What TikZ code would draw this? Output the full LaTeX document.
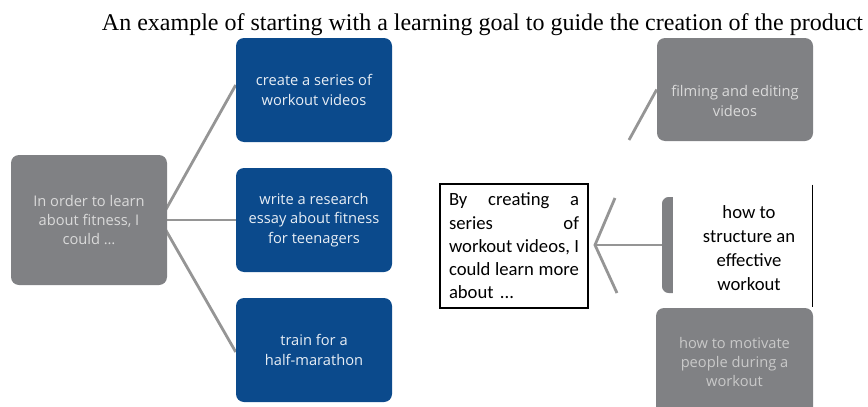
\documentclass[tikz,border=0pt]{standalone}
\usepackage{fontspec}
\setmainfont{Liberation Serif}
\newfontfamily\boxfont{Open Sans}
\newfontfamily\calfont{Carlito}
\usetikzlibrary{backgrounds}
\definecolor{boxblue}{HTML}{0B4A8C}
\definecolor{boxgray}{HTML}{808184}
\definecolor{linegray}{HTML}{959595}
\definecolor{lighttext}{HTML}{DADADA}
\definecolor{bluetext}{HTML}{E8EEF5}
\newcommand{\jline}[1]{\leavevmode\hbox to 97.5pt{#1}}
\begin{document}
\begin{tikzpicture}[x=0.75pt,y=-0.75pt,
  gbox/.style={rectangle, rounded corners=6pt, fill=boxgray, text=lighttext,
    font=\boxfont\fontsize{11}{14.6}\selectfont, align=center, inner sep=0pt,
    minimum width=117pt, minimum height=78pt},
  bbox/.style={gbox, fill=boxblue, text=bluetext},
  conn/.style={draw=linegray, line width=2.1pt},
  caltext/.style={font=\calfont\fontsize{14}{17.5}\selectfont, inner sep=0pt}]
\useasboundingbox (0,0) rectangle (868,407);
\clip (0,0) rectangle (868,407);
% title
\node[anchor=base, inner sep=0pt, font=\fontsize{18}{22}\selectfont] (title) at (482.5,31)
  {An example of starting with a learning goal to guide the creation of the product};
% left part
\node[gbox, minimum height=97.5pt] (L) at (89,220) {In order to learn\\about fitness, I\\could …};
\node[bbox] (B1) at (314,90) {create a series of\\workout videos};
\node[bbox] (B2) at (314,220) {write a research\\essay about fitness\\for teenagers};
\node[bbox] (B3) at (314,350) {train for a\\half-marathon};
\coordinate (hubL) at (160,220);
% right part
\node[gbox, minimum height=77.25pt] (F) at (735,89.5) {};
\node[text=lighttext, font=\boxfont\fontsize{11}{14.6}\selectfont, align=center, inner sep=0pt] (Ft) at (735,101) {filming and editing\\videos};
\fill[boxgray, rounded corners=5pt] (662,197) rectangle (730,293);
\coordinate (hb) at (662,245);
\node[fill=white, inner sep=0pt, minimum width=104.25pt, minimum height=91.5pt] (Sbg) at (742.5,246) {};
\draw[black, line width=0.8pt] (Sbg.north east) -- (Sbg.south east);
\node[caltext, align=center, font=\calfont\fontsize{14}{18}\selectfont] (S) at (749,248) {how to\\structure an\\effective\\workout};
\node[gbox, minimum width=117.75pt, minimum height=81pt, text=lighttext!92!black] (Mo) at (734.5,362) {how to motivate\\people during a\\workout};
% middle text box
\node[draw=black, line width=0.8pt, fill=white, minimum width=111pt, minimum height=93pt,
  caltext, font=\calfont\fontsize{14}{17.4}\selectfont, text width=97.5pt, align=left] (M) at (514,246)
  {\jline{By\hfill creating\hfill a}\\\jline{series\hfill of}\\\jline{workout\hfill videos,\hfill I}\\\jline{could\hfill learn\hfill more}\\about ...};
\coordinate (hubR) at (595,245);
\coordinate (ru) at (615,198);
\coordinate (rl) at (617,293);
\coordinate (rf) at (629,140);
\begin{scope}[on background layer]
  \draw[conn] (hubL) -- ([yshift=3.75pt]B1.west);
  \draw[conn] (hubL) -- (B2.west);
  \draw[conn] (hubL) -- ([yshift=-1.5pt]B3.west);
  \draw[conn] (ru) -- (hubR) -- (rl);
  \draw[conn] (hubR) -- (hb);
  \draw[conn] (rf) -- (F.west);
\end{scope}
\end{tikzpicture}
\end{document}
